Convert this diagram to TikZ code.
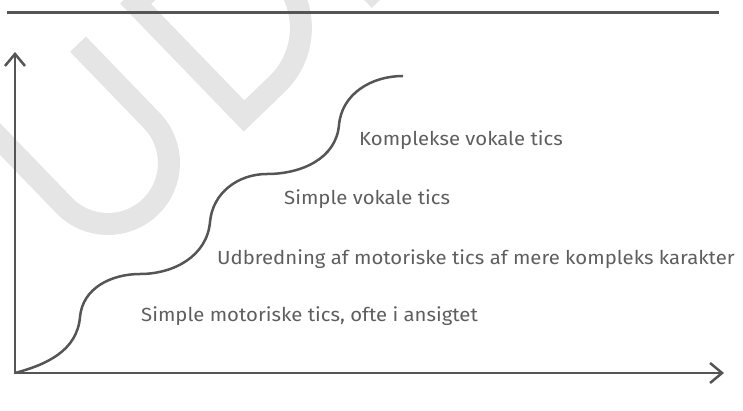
\documentclass[tikz,border=0pt]{standalone}
\usepackage{fontspec}
\setmainfont{Fira Sans}[FakeStretch=1.07]
\usetikzlibrary{arrows.meta}
\definecolor{axisgrey}{HTML}{555555}
\definecolor{textgrey}{HTML}{5E5E5E}
\definecolor{markgrey}{HTML}{E5E5E5}
\tikzset{
  axis/.style = {draw=axisgrey, line width=2.5pt},
  stage/.style = {anchor=base west, inner sep=0pt, text=textgrey, font=\fontsize{19}{22}\selectfont},
  wmstroke/.style = {draw=markgrey, line width=22pt}
}

\begin{document}
\begin{tikzpicture}[x=1pt, y=1pt]
\useasboundingbox (0,0) rectangle (743,410);
% watermark letters
\begin{scope}
\clip (0,0) rectangle (743,410);
\begin{scope}[shift={(244,294)}, rotate=44]
\draw [wmstroke] (-191.5,167) -- (-191.5,60.7) arc [start angle=180, end angle=360, radius=61] -- (-69.5,167);
\draw [wmstroke, line join=miter] (0,0) -- (0,156) -- (46,156) arc [start angle=90, end angle=-90, radius=78] -- cycle;
\draw [wmstroke] (178,-11) -- (178,167);
\end{scope}
\end{scope}
% rule
\coordinate (ruleL) at (7,397.5);
\coordinate (ruleR) at (719,397.5);
\draw [axis] (ruleL) -- (ruleR);
% axes
\coordinate (O) at (15,37);
\coordinate (ytop) at (15,358);
\coordinate (xend) at (724,37);
\draw [axis, line join=miter, {Straight Barb[length=12pt, width=20pt]}-{Straight Barb[length=12pt, width=20pt]}] (ytop) -- (O) -- (xend);
% curve
\coordinate (p1) at (80,93);
\coordinate (p2) at (140,136);
\coordinate (p3) at (210,188);
\coordinate (p4) at (267,236);
\coordinate (p5) at (339,285);
\coordinate (p6) at (403,334);
\draw [axis] (O) to [out=15, in=-95] (p1) to [out=85, in=180] (p2) to [out=0, in=-95] (p3)
  to [out=85, in=180] (p4) to [out=0, in=-95] (p5) to [out=85, in=180] (p6);
% labels
\node [stage] (motor) at (141,89) {Simple motoriske tics, ofte i ansigtet};
\node [stage] (spread) at (217,146) {Udbredning af motoriske tics af mere kompleks karakter};
\node [stage] (vocal) at (284,206) {Simple vokale tics};
\node [stage] (complex) at (359,264) {Komplekse vokale tics};
\end{tikzpicture}
\end{document}
